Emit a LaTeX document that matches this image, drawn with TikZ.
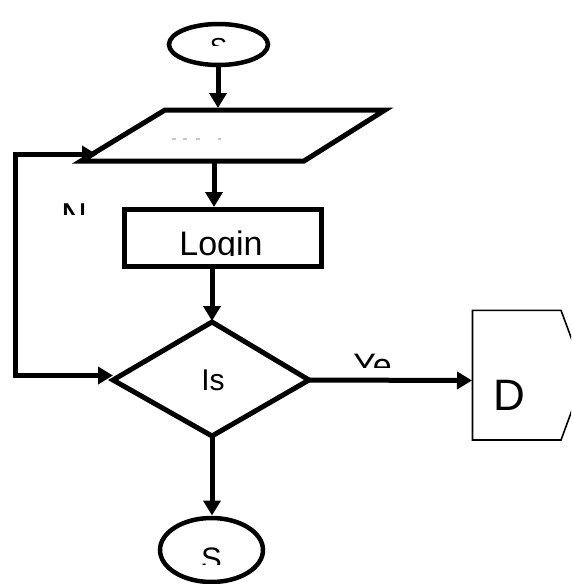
\documentclass[tikz,border=0pt]{standalone}
\usepackage{fontspec}
\setmainfont{Liberation Sans}
\usetikzlibrary{arrows.meta,shapes.geometric}
\newcommand{\myfs}[1]{\fontsize{#1}{#1}\selectfont}
\begin{document}
\begin{tikzpicture}[x=1pt,y=-1pt,
  thickline/.style={line width=5pt,line join=miter},
  tip/.tip={Triangle[length=15pt,width=17pt]},
  flowarrow/.style={thickline,-tip},
  oval/.style={draw,ellipse,line width=4.5pt,inner sep=0pt,outer sep=0pt},
  procbox/.style={draw,rectangle,line width=5pt,inner sep=0pt,outer sep=0pt},
  lbl/.style={anchor=base,inner sep=0pt,outer sep=0pt}]
\useasboundingbox (0,0) rectangle (571,584);
\clip (0,0) rectangle (571,584);

% shapes
\node[oval,minimum width=99pt,minimum height=41pt] (start) at (218.5,44.5) {};
\coordinate (pBL) at (81,161);
\coordinate (pTL) at (165,110);
\coordinate (pTR) at (385,110);
\coordinate (pBR) at (304,161);
\draw[thickline] (pBL) -- (pTL) -- (pTR) -- (pBR) -- cycle;
\node[procbox,minimum width=197pt,minimum height=57pt] (login) at (222.5,237.5) {};
\coordinate (dL) at (113,380);
\coordinate (dT) at (212,322);
\coordinate (dR) at (309,380);
\coordinate (dB) at (212,436);
\draw[thickline] (dL) -- (dT) -- (dR) -- (dB) -- cycle;
\node[oval,minimum width=103pt,minimum height=64pt] (stop) at (211.5,550) {};
\coordinate (xL1) at (472.5,310.3);
\coordinate (xT) at (561,310.3);
\coordinate (xP) at (585,375);
\coordinate (xB) at (561,440);
\coordinate (xL2) at (472.5,440);
\draw[line width=1.6pt,line join=miter] (xL1) -- (xT) -- (xP) -- (xB) -- (xL2) -- cycle;

% texts
\begin{scope}
\clip (190,30) rectangle (250,45.5);
\node[lbl] (tstart) at (218.5,56.6) {\myfs{26}S};
\end{scope}
\begin{scope}[gray!45,line width=1.2pt]
\draw (171.7,139) -- (175.7,139);
\draw (183.3,139) -- (187.3,139);
\draw (196,139) -- (200,139);
\draw (217.7,139) -- (221,139);
\end{scope}
\begin{scope}
\clip (150,215) rectangle (300,255.8);
\node[lbl] (tlogin) at (221,255) {\myfs{34}Login};
\end{scope}
\begin{scope}
\clip (50,195) rectangle (100,214.5);
\node[lbl] (tno) at (74,228) {\myfs{36}N};
\end{scope}
\node[lbl] (tis) at (213,390) {\myfs{30}Is};
\begin{scope}
\clip (340,345) rectangle (400,367.5);
\node[lbl] (tyes) at (372.5,377.5) {\myfs{34}Ye};
\end{scope}
\node[lbl] (tdisp) at (509,410) {\myfs{44}D};
\begin{scope}
\clip (180,530) rectangle (240,564.5);
\node[lbl] (tstop) at (211.5,569.5) {\myfs{31}S};
\end{scope}

% connectors
\coordinate (a1s) at (218,64.5);
\coordinate (a1e) at (218,108);
\draw[flowarrow] (a1s) -- (a1e);
\coordinate (a2s) at (214,162);
\coordinate (a2e) at (214,207);
\draw[flowarrow] (a2s) -- (a2e);
\coordinate (a3s) at (212,266);
\coordinate (a3e) at (212,321);
\draw[flowarrow] (a3s) -- (a3e);
\coordinate (loopA) at (97,154.5);
\coordinate (loopB) at (113,375.5);
\draw[thickline,tip-tip] (loopA) -- (15,154.5) -- (15,375.5) -- (loopB);
\coordinate (yesE) at (472,380.5);
\draw[flowarrow] (dR) -- (yesE);
\coordinate (a4e) at (212,515.5);
\draw[flowarrow] (dB) -- (a4e);
\end{tikzpicture}
\end{document}
